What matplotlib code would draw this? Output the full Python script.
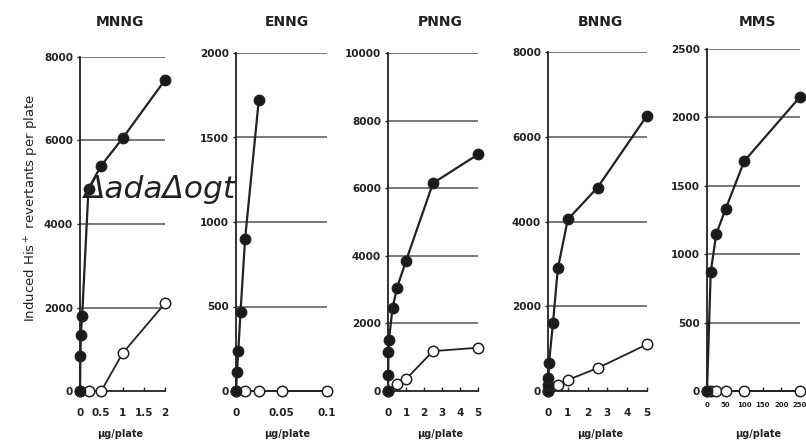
import matplotlib.pyplot as plt

plt.rcParams['font.family'] = ['DejaVu Sans']

# MNNG
mnng_x_filled = [0, 0.01, 0.02, 0.05, 0.2, 0.5, 1, 2]
mnng_y_filled = [0, 850, 1350, 1800, 4850, 5400, 6050, 7450]
mnng_x_open = [0, 0.2, 0.5, 1, 2]
mnng_y_open = [0, 0, 0, 900, 2100]

# ENNG
enng_x_filled = [0, 0.001, 0.0025, 0.005, 0.01, 0.025]
enng_y_filled = [0, 110, 235, 470, 900, 1720]
enng_x_open = [0, 0.01, 0.025, 0.05, 0.1]
enng_y_open = [0, 0, 0, 0, 0]

# PNNG
pnng_x_filled = [0, 0.01, 0.025, 0.05, 0.25, 0.5, 1, 2.5, 5]
pnng_y_filled = [0, 480, 1150, 1500, 2450, 3050, 3850, 6150, 7000]
pnng_x_open = [0, 0.5, 1, 2.5, 5]
pnng_y_open = [0, 200, 350, 1180, 1280]

# BNNG
bnng_x_filled = [0, 0.01, 0.025, 0.05, 0.25, 0.5, 1, 2.5, 5]
bnng_y_filled = [0, 150, 300, 650, 1600, 2900, 4050, 4800, 6500]
bnng_x_open = [0, 0.5, 1, 2.5, 5]
bnng_y_open = [0, 150, 260, 540, 1100]

# MMS
mms_x_filled = [0, 10, 25, 50, 100, 250]
mms_y_filled = [0, 870, 1150, 1330, 1680, 2150]
mms_x_open = [0, 10, 25, 50, 100, 250]
mms_y_open = [0, 0, 0, 0, 0, 0]

panels = [
    ('MNNG', mnng_x_filled, mnng_y_filled, mnng_x_open, mnng_y_open,
     [0, 0.5, 1, 1.5, 2], ['0', '0.5', '1', '1.5', '2'], 8000, 2000),
    ('ENNG', enng_x_filled, enng_y_filled, enng_x_open, enng_y_open,
     [0, 0.05, 0.1], ['0', '0.05', '0.1'], 2000, 500),
    ('PNNG', pnng_x_filled, pnng_y_filled, pnng_x_open, pnng_y_open,
     [0, 1, 2, 3, 4, 5], ['0', '1', '2', '3', '4', '5'], 10000, 2000),
    ('BNNG', bnng_x_filled, bnng_y_filled, bnng_x_open, bnng_y_open,
     [0, 1, 2, 3, 4, 5], ['0', '1', '2', '3', '4', '5'], 8000, 2000),
    ('MMS', mms_x_filled, mms_y_filled, mms_x_open, mms_y_open,
     [0, 50, 100, 150, 200, 250], ['0', '50', '100', '150', '200', '250'], 2500, 500),
]

# axes boxes in pixels: left, right, top, title centre x
boxes = [(80, 165, 57, 120), (236, 327, 53, 287), (388, 478, 53, 440),
         (548, 647, 52, 600), (707, 800, 49, 758)]
W, H = 806, 445
bottom_px = 391

fig = plt.figure(figsize=(W / 100, H / 100), dpi=100)
ink = '#222222'

for (name, xf, yf, xo, yo, xt, xtl, ymax, ystep), (l, r, t, tc) in zip(panels, boxes):
    ax = fig.add_axes([l / W, 1 - bottom_px / H, (r - l) / W, (bottom_px - t) / H])
    xmax = xt[-1]
    ax.set_xlim(0, xmax)
    ax.set_ylim(0, ymax)
    for s in ['top', 'right']:
        ax.spines[s].set_visible(False)
    for s in ['left', 'bottom']:
        ax.spines[s].set_color(ink)
        ax.spines[s].set_linewidth(1.3)
    yt = list(range(0, ymax + 1, ystep))
    ax.set_yticks(yt)
    ax.set_yticklabels([str(v) for v in yt], fontsize=7.5, fontweight='bold', color=ink)
    for v in yt[1:]:
        ax.axhline(v, color='#555555', lw=1.1, zorder=1)
    ax.set_xticks(xt)
    fs = 5 if name == 'MMS' else 7.5
    ax.set_xticklabels(xtl, fontsize=fs, fontweight='bold', color=ink)
    ax.tick_params(axis='x', direction='in', length=3, width=1, color=ink,
                   pad=12 if name != 'MMS' else 8)
    ax.tick_params(axis='y', direction='out', length=2, width=1, color=ink, pad=3)
    ax.plot(xo, yo, '-o', color=ink, lw=1.3, ms=7.5, mfc='white', mec=ink, mew=1.1,
            clip_on=False, zorder=3)
    ax.plot(xf, yf, '-o', color=ink, lw=1.6, ms=7.5, mfc='#1a1a1a', mec=ink,
            clip_on=False, zorder=4)
    fig.text(tc / W, 1 - 22 / H, name, fontsize=10, fontweight='bold', color=ink,
             ha='center', va='center')
    fig.text(tc / W, 1 - 434 / H, 'μg/plate', fontsize=7, fontweight='bold', color=ink,
             ha='center', va='center')

fig.text(32 / W, 1 - 208 / H, 'Induced His$^+$ revertants per plate', rotation=90,
         ha='center', va='center', fontsize=9.5, color=ink)
fig.text(84 / W, 1 - 190 / H, 'ΔadaΔogt', fontsize=22.5, style='italic',
         ha='left', va='center', color=ink)

fig.savefig('out.png', dpi=100)
